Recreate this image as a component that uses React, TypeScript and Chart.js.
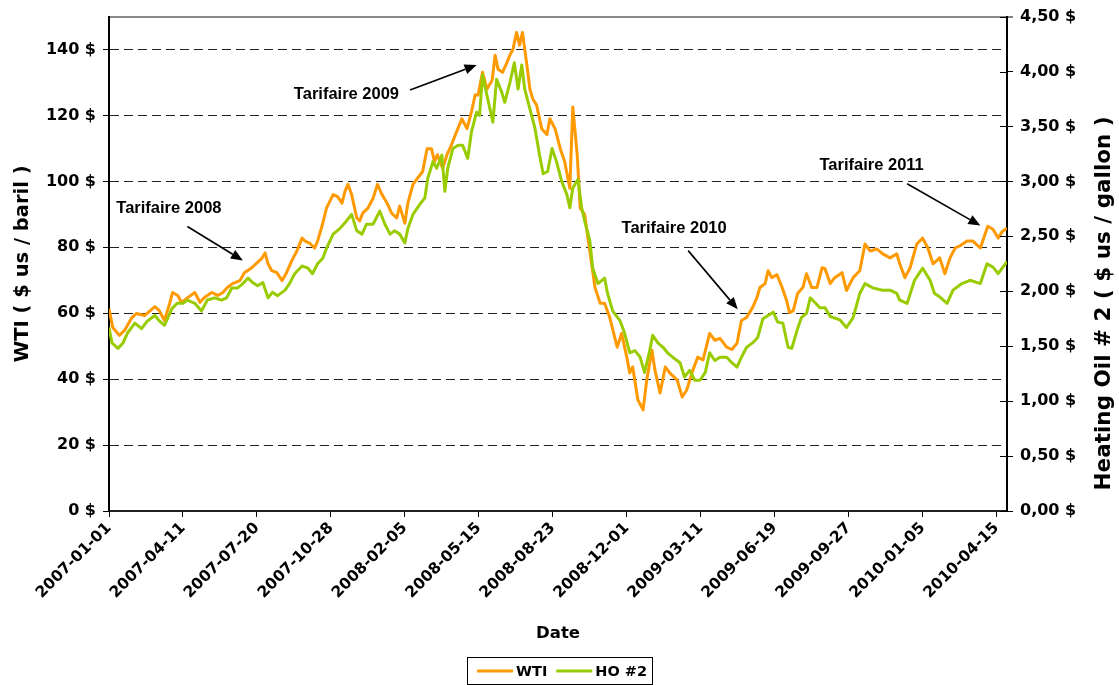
import React, { useEffect, useRef } from "react";
import { Chart, registerables } from "chart.js";

Chart.register(...registerables);

// ---------- data ----------
const START_UTC = Date.UTC(2007, 0, 1); // day 0 of the x axis
const X_MAX_DAY = 1214; // last day shown (2010-04-30)
const X_TICK_STEP = 100; // one label every 100 days

const seriesLabels = ["WTI", "HO #2"];
const seriesColors = ["#FF9900", "#99CC00"];

// WTI ($ us / baril), x = days since 2007-01-01
const wtiDays = [
  0, 5, 14, 21, 31, 37, 48, 62, 68, 75,
  82, 86, 93, 98, 105, 116, 123, 129, 139, 147,
  154, 160, 167, 177, 183, 193, 200, 206, 211, 215,
  220, 227, 234, 240, 247, 254, 261, 265, 271, 278,
  282, 289, 294, 303, 309, 315, 319, 323, 328, 335,
  339, 343, 350, 357, 363, 369, 376, 382, 389, 393,
  400, 404, 411, 417, 424, 430, 436, 440, 444, 451,
  457, 463, 470, 477, 484, 490, 495, 499, 505, 511,
  518, 522, 526, 532, 538, 542, 546, 551, 555, 559,
  565, 569, 573, 578, 585, 592, 596, 603, 610, 616,
  623, 627, 633, 637, 643, 650, 657, 664, 670, 677,
  687, 693, 700, 704, 708, 715, 722, 727, 734, 738,
  745, 752, 758, 768, 775, 781, 788, 796, 803, 812,
  819, 826, 835, 842, 849, 855, 862, 870, 876, 880,
  887, 891, 896, 903, 910, 916, 920, 925, 931, 938,
  943, 950, 957, 964, 968, 975, 981, 991, 997, 1006,
  1011, 1015, 1022, 1029, 1038, 1046, 1056, 1065, 1069, 1076,
  1083, 1092, 1100, 1107, 1114, 1123, 1130, 1137, 1144, 1150,
  1160, 1168, 1178, 1188, 1195, 1202, 1208, 1214,
];
const wtiValues = [
  61.4, 55.7, 53.3, 54.8, 58.7, 59.9, 59.3, 62.0, 60.8, 57.8,
  63.0, 66.3, 65.4, 63.3, 64.5, 66.3, 63.3, 64.8, 66.3, 65.4,
  66.3, 67.8, 69.0, 69.9, 72.3, 73.8, 75.3, 76.5, 78.3, 75.0,
  72.9, 72.3, 69.9, 72.3, 75.9, 78.9, 82.8, 81.9, 81.3, 79.8,
  81.9, 87.3, 91.9, 96.0, 95.4, 93.4, 97.0, 99.1, 96.0, 88.9,
  88.0, 90.4, 91.9, 94.9, 99.1, 96.0, 93.4, 90.4, 88.9, 92.5,
  87.3, 93.4, 99.1, 100.9, 103.0, 109.9, 109.9, 106.0, 108.1, 104.0,
  108.1, 111.1, 115.1, 119.0, 116.0, 121.1, 126.2, 126.2, 133.1, 128.0,
  130.7, 138.3, 134.0, 133.1, 136.1, 138.3, 140.0, 145.2, 141.3, 145.2,
  135.2, 128.0, 125.0, 123.2, 116.0, 114.2, 119.0, 116.0, 110.0, 106.0,
  97.9, 122.6, 108.0, 91.9, 90.0, 78.9, 67.8, 63.0, 63.0, 58.7,
  49.7, 53.9, 46.7, 41.9, 43.7, 33.7, 30.7, 39.8, 48.8, 42.8,
  35.8, 43.7, 41.9, 39.8, 34.6, 36.7, 41.9, 46.7, 45.8, 53.9,
  51.8, 52.4, 49.7, 49.0, 50.9, 57.8, 58.7, 61.7, 64.8, 67.8,
  69.0, 72.9, 70.8, 71.7, 67.8, 63.9, 60.2, 60.8, 66.0, 67.8,
  72.0, 67.8, 67.8, 73.8, 73.5, 69.0, 70.8, 72.3, 66.9, 70.8,
  72.0, 72.9, 81.0, 78.9, 79.5, 78.0, 76.8, 78.0, 75.0, 70.8,
  73.8, 81.0, 82.8, 79.8, 75.0, 76.8, 72.0, 76.8, 79.8, 80.4,
  81.9, 81.9, 79.8, 86.4, 85.5, 82.8, 84.9, 85.8,
];

// Heating Oil #2 ($ us / gallon)
const hoDays = [
  0, 4, 12, 19, 25, 35, 44, 52, 62, 68,
  75, 85, 92, 100, 106, 116, 125, 133, 143, 152,
  159, 166, 174, 181, 188, 194, 201, 208, 215, 221,
  228, 238, 244, 251, 261, 269, 275, 282, 289, 294,
  303, 312, 321, 328, 335, 342, 348, 357, 366, 373,
  380, 386, 393, 400, 404, 411, 420, 427, 431, 438,
  443, 450, 454, 458, 465, 472, 478, 485, 490, 497,
  501, 505, 512, 519, 524, 531, 535, 542, 548, 553,
  558, 562, 569, 576, 582, 587, 593, 599, 605, 612,
  619, 623, 627, 634, 639, 643, 650, 654, 661, 670,
  674, 681, 691, 697, 704, 711, 718, 724, 731, 735,
  742, 749, 755, 762, 772, 778, 785, 792, 799, 806,
  812, 819, 826, 835, 842, 849, 855, 862, 870, 877,
  884, 891, 898, 904, 911, 918, 923, 930, 936, 943,
  948, 954, 961, 968, 975, 988, 997, 1006, 1015, 1022,
  1033, 1045, 1056, 1065, 1069, 1079, 1089, 1100, 1110, 1116,
  1123, 1133, 1141, 1153, 1164, 1178, 1187, 1195, 1202, 1214,
];
const hoValues = [
  1.67, 1.53, 1.48, 1.53, 1.62, 1.71, 1.66, 1.73, 1.78, 1.73,
  1.69, 1.84, 1.89, 1.89, 1.92, 1.89, 1.82, 1.92, 1.94, 1.92,
  1.94, 2.03, 2.03, 2.07, 2.12, 2.08, 2.05, 2.08, 1.94, 1.99,
  1.96, 2.01, 2.07, 2.16, 2.23, 2.21, 2.16, 2.25, 2.30, 2.39,
  2.52, 2.57, 2.64, 2.70, 2.55, 2.52, 2.61, 2.61, 2.73, 2.61,
  2.52, 2.55, 2.52, 2.44, 2.57, 2.70, 2.79, 2.85, 3.03, 3.18,
  3.12, 3.24, 2.91, 3.12, 3.30, 3.33, 3.33, 3.21, 3.45, 3.63,
  3.60, 3.97, 3.75, 3.54, 3.93, 3.81, 3.72, 3.90, 4.08, 3.84,
  4.06, 3.84, 3.66, 3.48, 3.24, 3.07, 3.09, 3.30, 3.18, 3.00,
  2.88, 2.76, 2.94, 3.02, 2.76, 2.64, 2.46, 2.21, 2.07, 2.12,
  1.98, 1.82, 1.73, 1.62, 1.44, 1.46, 1.40, 1.26, 1.46, 1.60,
  1.53, 1.49, 1.44, 1.40, 1.35, 1.22, 1.28, 1.19, 1.19, 1.26,
  1.44, 1.37, 1.40, 1.40, 1.35, 1.31, 1.40, 1.49, 1.53, 1.58,
  1.75, 1.78, 1.81, 1.72, 1.71, 1.49, 1.48, 1.64, 1.76, 1.80,
  1.94, 1.90, 1.85, 1.85, 1.77, 1.74, 1.67, 1.76, 1.98, 2.07,
  2.03, 2.01, 2.01, 1.98, 1.92, 1.89, 2.10, 2.21, 2.10, 1.98,
  1.95, 1.89, 2.01, 2.07, 2.10, 2.07, 2.25, 2.22, 2.16, 2.27,
];

// Axis ranges
const WTI_MAX = 150;
const WTI_STEP = 20;
const HO_MAX = 4.5;
const HO_STEP = 0.5;

// Annotations (in data units: day, WTI $)
const annotationLabels = ["Tarifaire 2008", "Tarifaire 2009", "Tarifaire 2010", "Tarifaire 2011"];
const annotationTextAt = [[81, 91.7], [321, 126.5], [764, 85.7], [1031, 104.7]];
const annotationArrowFrom = [[106, 86.3], [407, 127.7], [783, 79.0], [1079, 99.3]];
const annotationArrowTo = [[181, 76.0], [497, 135.3], [850, 61.2], [1178, 86.6]];

const AXIS_TITLE_LEFT = "WTI ( $ us / baril )";
const AXIS_TITLE_RIGHT = "Heating Oil # 2 ( $ us / gallon )";
const AXIS_TITLE_X = "Date";

// ---------- helpers ----------
const dayToLabel = (d: number) =>
  new Date(START_UTC + Math.round(d) * 86400000).toISOString().slice(0, 10);

const FONT_FAMILY = '"DejaVu Sans", "Liberation Sans", sans-serif';
const ANNOT_FONT = 'bold 16.5px "Liberation Sans", Arial, sans-serif';

function drawArrow(ctx: CanvasRenderingContext2D, x1: number, y1: number, x2: number, y2: number) {
  const ang = Math.atan2(y2 - y1, x2 - x1);
  const headLen = 12;
  const headHalf = 5;
  const bx = x2 - headLen * Math.cos(ang);
  const by = y2 - headLen * Math.sin(ang);
  ctx.beginPath();
  ctx.moveTo(x1, y1);
  ctx.lineTo(bx, by);
  ctx.lineWidth = 1.6;
  ctx.stroke();
  ctx.beginPath();
  ctx.moveTo(x2, y2);
  ctx.lineTo(bx + headHalf * Math.sin(ang), by - headHalf * Math.cos(ang));
  ctx.lineTo(bx - headHalf * Math.sin(ang), by + headHalf * Math.cos(ang));
  ctx.closePath();
  ctx.fill();
}

const extrasPlugin = {
  id: "extras",
  afterDatasetsDraw(chart: any) {
    const { ctx, scales } = chart;
    const xs = scales.x;
    const ys = scales.y;
    ctx.save();
    ctx.fillStyle = "#000";
    ctx.strokeStyle = "#000";
    ctx.font = ANNOT_FONT;
    ctx.textAlign = "center";
    ctx.textBaseline = "middle";
    annotationLabels.forEach((label, i) => {
      const [td, tv] = annotationTextAt[i];
      ctx.fillText(label, xs.getPixelForValue(td), ys.getPixelForValue(tv));
      const [fd, fv] = annotationArrowFrom[i];
      const [ed, ev] = annotationArrowTo[i];
      drawArrow(
        ctx,
        xs.getPixelForValue(fd),
        ys.getPixelForValue(fv),
        xs.getPixelForValue(ed),
        ys.getPixelForValue(ev)
      );
    });
    ctx.restore();
  },
  afterDraw(chart: any) {
    const { ctx, chartArea, scales } = chart;
    const y2 = scales.y2;
    ctx.save();
    // inner tick marks of the right axis
    ctx.strokeStyle = "#000";
    ctx.lineWidth = 1;
    y2.ticks.forEach((t: any) => {
      const py = Math.round(y2.getPixelForValue(t.value)) + 0.5;
      ctx.beginPath();
      ctx.moveTo(chartArea.right - 7, py);
      ctx.lineTo(chartArea.right, py);
      ctx.stroke();
    });

    // right axis title, reading bottom-to-top
    ctx.fillStyle = "#000";
    ctx.font = `bold 21.5px ${FONT_FAMILY}`;
    ctx.textAlign = "center";
    ctx.textBaseline = "middle";
    ctx.translate(chart.width - 15, chartArea.top + (chartArea.bottom - chartArea.top) * 0.58);
    ctx.rotate(-Math.PI / 2);
    ctx.fillText(AXIS_TITLE_RIGHT, 0, 0);
    ctx.restore();

    // legend with a framed box
    ctx.save();
    ctx.font = `bold 14.5px ${FONT_FAMILY}`;
    const sample = 36;
    const gapText = 3;
    const gapItem = 9;
    const padL = 10;
    const padR = 5;
    const datasets = chart.data.datasets;
    const widths = datasets.map((d: any) => ctx.measureText(d.label).width);
    let total = padL + padR + gapItem * (datasets.length - 1);
    widths.forEach((w: number) => (total += sample + gapText + w));
    const left = Math.round((chart.width - total) / 2);
    const top = chart.height - 28;
    const h = 27;
    ctx.strokeStyle = "#000";
    ctx.lineWidth = 1;
    ctx.strokeRect(left + 0.5, top + 0.5, Math.round(total), h);
    const cy = top + h / 2 + 0.5;
    let x = left + padL;
    datasets.forEach((d: any, i: number) => {
      ctx.strokeStyle = d.borderColor;
      ctx.lineWidth = 3;
      ctx.beginPath();
      ctx.moveTo(x, cy);
      ctx.lineTo(x + sample, cy);
      ctx.stroke();
      x += sample + gapText;
      ctx.fillStyle = "#000";
      ctx.textAlign = "left";
      ctx.textBaseline = "middle";
      ctx.fillText(d.label, x, cy + 1);
      x += widths[i] + gapItem;
    });
    ctx.restore();
  },
};

export default function App() {
  const canvasRef = useRef<HTMLCanvasElement | null>(null);

  useEffect(() => {
    if (!canvasRef.current) return;
    const tickFont = { family: FONT_FAMILY, size: 16, weight: "bold" as const };
    const chart = new Chart(canvasRef.current, {
      type: "line",
      data: {
        datasets: [
          {
            label: seriesLabels[0],
            data: wtiDays.map((d, i) => ({ x: d, y: wtiValues[i] })),
            borderColor: seriesColors[0],
            backgroundColor: seriesColors[0],
            borderWidth: 3,
            pointRadius: 0,
            tension: 0,
            borderJoinStyle: "round",
            yAxisID: "y",
            order: 1,
          },
          {
            label: seriesLabels[1],
            data: hoDays.map((d, i) => ({ x: d, y: hoValues[i] })),
            borderColor: seriesColors[1],
            backgroundColor: seriesColors[1],
            borderWidth: 3,
            pointRadius: 0,
            tension: 0,
            borderJoinStyle: "round",
            yAxisID: "y2",
            order: 0,
          },
        ],
      },
      options: {
        responsive: false,
        animation: false,
        devicePixelRatio: 1,
        layout: { padding: { left: 0, right: 0, top: 14, bottom: 38 } },
        plugins: {
          legend: { display: false },
          tooltip: { enabled: false },
        },
        scales: {
          x: {
            type: "linear",
            position: "bottom",
            min: 0,
            max: X_MAX_DAY,
            ticks: {
              stepSize: X_TICK_STEP,
              includeBounds: false,
              autoSkip: false,
              minRotation: 45,
              maxRotation: 45,
              color: "#000",
              padding: 2,
              font: { family: FONT_FAMILY, size: 15.5, weight: "bold" },
              callback: (v: any) => dayToLabel(Number(v)),
            },
            grid: {
              drawOnChartArea: false,
              color: "#000",
              tickColor: "#000",
              tickLength: 6,
              tickWidth: 1,
            },
            border: { display: true, color: "#222", width: 2 },
            title: {
              display: true,
              text: AXIS_TITLE_X,
              color: "#000",
              font: { family: FONT_FAMILY, size: 16.5, weight: "bold" },
              padding: { top: 0, bottom: 3 },
            },
            afterFit: (s: any) => {
              s.height = 136;
            },
          },
          y: {
            type: "linear",
            position: "left",
            min: 0,
            max: WTI_MAX,
            ticks: {
              stepSize: WTI_STEP,
              includeBounds: false,
              color: "#000",
              padding: 7,
              font: tickFont,
              callback: (v: any) => `${v} $`,
            },
            grid: {
              color: (c: any) => (c.tick && c.tick.value === 0 ? "rgba(0,0,0,0)" : "#222"),
              tickColor: "#000",
              tickLength: 6,
              tickWidth: 1,
              lineWidth: 1,
            },
            border: { display: true, color: "#000", width: 2, dash: [9, 5] },
            title: {
              display: true,
              text: AXIS_TITLE_LEFT,
              color: "#000",
              font: { family: FONT_FAMILY, size: 19.5, weight: "bold" },
              padding: { top: 11, bottom: 0 },
            },
            afterFit: (s: any) => {
              s.width = 109;
            },
          },
          y2: {
            type: "linear",
            position: "right",
            min: 0,
            max: HO_MAX,
            ticks: {
              stepSize: HO_STEP,
              color: "#000",
              padding: 7,
              font: tickFont,
              callback: (v: any) => `${Number(v).toFixed(2).replace(".", ",")} $`,
            },
            grid: {
              drawOnChartArea: true,
              color: (c: any) =>
                c.tick && Math.abs(c.tick.value - HO_MAX) < 1e-9 ? "#8a8a8a" : "rgba(0,0,0,0)",
              lineWidth: (c: any) => (c.tick && Math.abs(c.tick.value - HO_MAX) < 1e-9 ? 2 : 1),
              tickColor: "#000",
              tickLength: 6,
              tickWidth: 1,
            },
            border: { display: true, color: "#000", width: 2 },
            afterFit: (s: any) => {
              s.width = 112;
            },
          },
        },
      },
      plugins: [extrasPlugin],
    } as any);
    return () => chart.destroy();
  }, []);

  return (
    <div
      style={{
        position: "absolute",
        left: 0,
        top: 0,
        width: 1119,
        height: 685,
        background: "#fff",
      }}
    >
      <canvas ref={canvasRef} width={1119} height={685} style={{ display: "block" }} />
    </div>
  );
}
